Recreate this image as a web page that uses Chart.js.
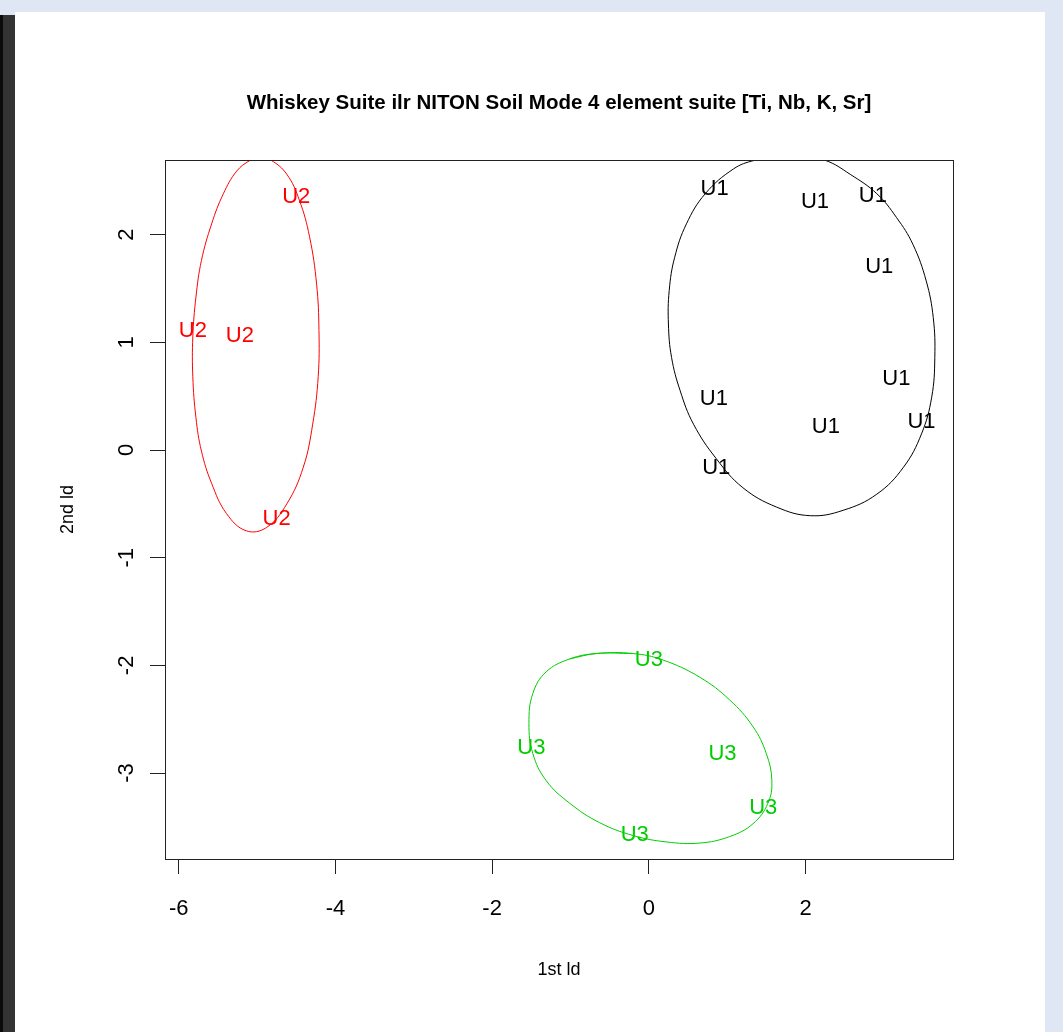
<!DOCTYPE html>
<html>
<head>
<meta charset="utf-8">
<script src="https://cdn.jsdelivr.net/npm/chart.js@4/dist/chart.umd.min.js"></script>
<style>
  html, body { margin: 0; padding: 0; }
  body { width: 1063px; height: 1032px; background: #e0e7f4; position: relative; overflow: hidden; }
  #side { position: absolute; left: 0; top: 15px; width: 3px; height: 1017px; background: #0a0a0a; border-right: 12px solid #333; }
  #page { position: absolute; left: 15px; top: 12px; width: 1030px; height: 1020px; background: #fff; }
</style>
</head>
<body>
<div id="side"></div>
<div id="page"><canvas id="ldaChart" width="1030" height="1020"></canvas></div>
<script>
const xTicks = [-6, -4, -2, 0, 2];
const yTicks = [-3, -2, -1, 0, 1, 2];

// LD scores per group
const u1X = [0.84, 2.12, 2.86, 2.94, 3.16, 0.83, 2.26, 3.48, 0.86];
const u1Y = [2.42, 2.30, 2.36, 1.70, 0.66, 0.47, 0.21, 0.26, -0.17];
const u2X = [-4.50, -5.82, -5.22, -4.75];
const u2Y = [2.35, 1.11, 1.06, -0.64];
const u3X = [0.00, -1.50, 0.94, 1.46, -0.18];
const u3Y = [-1.95, -2.77, -2.82, -3.32, -3.57];

// ellipse outlines (closed: last point = first point)
const u1EllX = [1.80, 1.35, 1.08, 0.72, 0.48, 0.33, 0.26, 0.25, 0.29, 0.40, 0.57, 0.86, 1.20, 1.63, 2.06, 2.48, 2.91, 3.25, 3.48, 3.61, 3.65, 3.63, 3.54, 3.37, 3.16, 2.91, 2.57, 2.25, 1.80];
const u1EllY = [2.75, 2.69, 2.61, 2.38, 2.10, 1.79, 1.48, 1.17, 0.86, 0.55, 0.24, -0.08, -0.35, -0.53, -0.61, -0.56, -0.41, -0.16, 0.15, 0.49, 0.86, 1.23, 1.57, 1.91, 2.16, 2.38, 2.56, 2.69, 2.75];
const u2EllX = [-4.98, -5.09, -5.26, -5.43, -5.58, -5.71, -5.78, -5.82, -5.82, -5.78, -5.71, -5.58, -5.39, -5.14, -4.88, -4.62, -4.41, -4.29, -4.22, -4.21, -4.24, -4.33, -4.46, -4.62, -4.82, -4.98];
const u2EllY = [2.72, 2.69, 2.59, 2.38, 2.10, 1.76, 1.42, 1.05, 0.68, 0.30, -0.01, -0.31, -0.59, -0.75, -0.72, -0.50, -0.16, 0.24, 0.68, 1.11, 1.54, 1.98, 2.32, 2.56, 2.69, 2.72];
const u3EllX = [-0.67, -0.20, 0.18, 0.65, 1.03, 1.33, 1.50, 1.57, 1.52, 1.33, 1.03, 0.65, 0.23, -0.20, -0.63, -1.01, -1.31, -1.48, -1.53, -1.48, -1.31, -1.01, -0.67];
const u3EllY = [-1.89, -1.89, -1.95, -2.11, -2.32, -2.57, -2.82, -3.07, -3.28, -3.47, -3.59, -3.65, -3.64, -3.58, -3.46, -3.28, -3.07, -2.82, -2.54, -2.26, -2.06, -1.94, -1.89];

const FONT = '"Liberation Sans", Arial, sans-serif';
Chart.defaults.color = '#000';
Chart.defaults.font.family = FONT;

function toPoints(xs, ys) {
  return xs.map((x, i) => ({ x: x, y: ys[i] }));
}

function groupSet(label, xs, ys, color) {
  return { label: label, pointText: label, data: toPoints(xs, ys), borderColor: color, pointRadius: 0, showLine: false };
}

function ellipseSet(xs, ys, color) {
  const pts = toPoints(xs, ys);
  // wrap one point each side so the spline has no corner where it closes
  const loop = [pts[pts.length - 2]].concat(pts, [pts[1]]);
  return { data: loop, borderColor: color, borderWidth: 1, pointRadius: 0, showLine: true, tension: 0.4 };
}

const pointLabels = {
  id: 'pointLabels',
  afterDatasetsDraw(chart) {
    const ctx = chart.ctx;
    ctx.save();
    ctx.font = '22px ' + FONT;
    ctx.textAlign = 'center';
    ctx.textBaseline = 'middle';
    chart.data.datasets.forEach((ds, i) => {
      if (!ds.pointText) return;
      ctx.fillStyle = ds.borderColor;
      chart.getDatasetMeta(i).data.forEach(pt => ctx.fillText(ds.pointText, pt.x, pt.y));
    });
    ctx.restore();
  }
};

const plotBox = {
  id: 'plotBox',
  afterDraw(chart) {
    const { ctx, chartArea: a } = chart;
    ctx.save();
    ctx.strokeStyle = '#222';
    ctx.lineWidth = 1;
    ctx.strokeRect(Math.floor(a.left) + 0.5, Math.floor(a.top) + 0.5, Math.round(a.width), Math.round(a.height));
    ctx.font = 'bold 20.5px ' + FONT;
    ctx.fillStyle = '#000';
    ctx.textAlign = 'center';
    ctx.textBaseline = 'middle';
    ctx.fillText('Whiskey Suite ilr NITON Soil Mode 4 element suite [Ti, Nb, K, Sr]', (a.left + a.right) / 2, 91);
    ctx.restore();
  }
};

new Chart(document.getElementById('ldaChart').getContext('2d'), {
  type: 'scatter',
  data: {
    datasets: [
      ellipseSet(u1EllX, u1EllY, '#000000'),
      ellipseSet(u2EllX, u2EllY, '#ff0000'),
      ellipseSet(u3EllX, u3EllY, '#00cd00'),
      groupSet('U1', u1X, u1Y, '#000000'),
      groupSet('U2', u2X, u2Y, '#ff0000'),
      groupSet('U3', u3X, u3Y, '#00cd00')
    ]
  },
  options: {
    responsive: false,
    animation: false,
    layout: { padding: { top: 148, right: 92, bottom: 0, left: 0 } },
    plugins: { legend: { display: false }, tooltip: { enabled: false }, title: { display: false } },
    scales: {
      x: {
        min: -6.175, max: 3.882,
        afterFit: s => { s.height = 173; },
        afterBuildTicks: s => { s.ticks = xTicks.map(v => ({ value: v })); },
        grid: { drawOnChartArea: false, drawTicks: true, tickLength: 15, color: '#222' },
        border: { display: false },
        ticks: { font: { size: 22 }, padding: 22, maxRotation: 0 },
        title: { display: true, text: '1st ld', font: { size: 18 }, padding: { bottom: 51 } }
      },
      y: {
        min: -3.798, max: 2.693,
        afterFit: s => { s.width = 150; },
        afterBuildTicks: s => { s.ticks = yTicks.map(v => ({ value: v })); },
        grid: { drawOnChartArea: false, drawTicks: true, tickLength: 15, color: '#222' },
        border: { display: false },
        ticks: { font: { size: 22 }, padding: 13, minRotation: 90, maxRotation: 90, crossAlign: 'center' },
        title: { display: true, text: '2nd ld', font: { size: 18 }, padding: { top: 42 } }
      }
    }
  },
  plugins: [pointLabels, plotBox]
});
</script>
</body>
</html>
